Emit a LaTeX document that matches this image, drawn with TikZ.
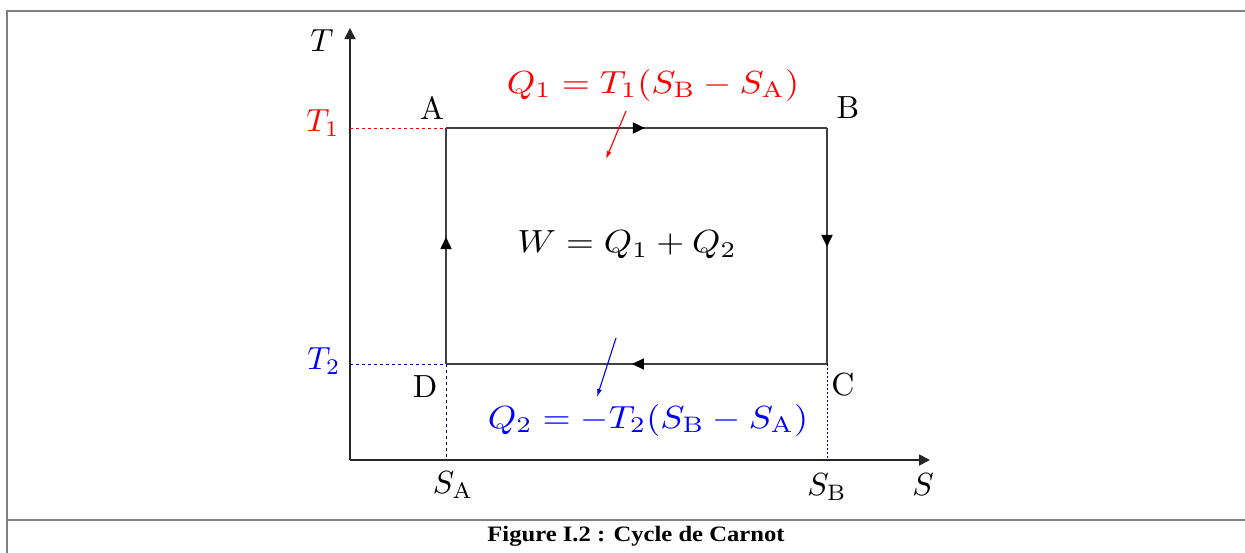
\documentclass[tikz,border=0pt]{standalone}
\usepackage{fontspec}
\newfontfamily\capfont{Liberation Serif}
\usetikzlibrary{arrows.meta,decorations.markings}
\tikzset{
  lbl/.style={font=\fontsize{10}{12}\selectfont, inner sep=0pt, scale=3.2},
  frameline/.style={draw=black!50, line width=2.2pt},
  cycleline/.style={draw=black!75, line width=1.8pt},
  axisline/.style={draw=black!85, line width=1.8pt, -{Triangle[length=11pt,width=11pt]}},
  midarrow/.style={postaction={decorate},decoration={markings,mark=at position #1 with {\arrow[black]{Triangle[length=12pt,width=11pt]}}}},
  guide/.style={line width=1pt, dash pattern=on 3pt off 3pt},
  heat/.style={line width=1.1pt, -{Latex[length=8pt,width=5pt]}},
}
\begin{document}
\begin{tikzpicture}[x=1pt,y=-1pt]
\useasboundingbox (0,0) rectangle (1245,552);
% frame
\draw[frameline] (7,560) -- (7,11) -- (1250,11);
\draw[frameline] (7,520) -- (1250,520);
\node[inner sep=0pt, xscale=1.12, font=\capfont\bfseries\fontsize{22}{26}\selectfont] (cap) at (636,536) {Figure I.2 : Cycle de Carnot};
% axes
\coordinate (O) at (350,460);
\coordinate (Ttip) at (350,28);
\coordinate (Stip) at (930,460);
\draw[axisline] (O) -- (Ttip);
\draw[axisline] (O) -- (Stip);
% cycle corners
\coordinate (A) at (446,128);
\coordinate (B) at (827,128);
\coordinate (C) at (827,364);
\coordinate (D) at (446,364);
\coordinate (T1ax) at (350,128);
\coordinate (T2ax) at (350,364);
\coordinate (SAax) at (446,460);
\coordinate (SBax) at (827,460);
% guide lines
\draw[guide, red] (T1ax) -- (A);
\draw[guide, blue!70!black] (T2ax) -- (D);
\draw[guide, black!70!blue] (D) -- (SAax);
\draw[line width=1pt, dash pattern=on 2pt off 2pt, black!70!blue] (C) -- (SBax);
% cycle
\draw[cycleline, midarrow=0.522] (A) -- (B);
\draw[cycleline, midarrow=0.504] (B) -- (C);
\draw[cycleline, midarrow=0.512] (C) -- (D);
\draw[cycleline, midarrow=0.538] (D) -- (A);
% labels
\node[lbl] (Tl) at (322,41) {$T$};
\node[lbl, red] (T1l) at (323,123) {$T_1$};
\node[lbl, blue] (T2l) at (324,361) {$T_2$};
\node[lbl] (Al) at (432,108) {A};
\node[lbl] (Bl) at (848,108) {B};
\node[lbl] (Cl) at (843,385) {C};
\node[lbl] (Dl) at (425,387) {D};
\node[lbl] (SAl) at (453,485) {$S_{\mathrm{A}}$};
\node[lbl] (SBl) at (827,487) {$S_{\mathrm{B}}$};
\node[lbl] (Sl) at (923,485) {$S$};
\node[lbl, red, xscale=1.13] (Q1) at (653,85) {$Q_1=T_1(S_{\mathrm{B}}-S_{\mathrm{A}})$};
\node[lbl, blue, xscale=1.13] (Q2) at (648,420) {$Q_2=-T_2(S_{\mathrm{B}}-S_{\mathrm{A}})$};
\node[lbl, xscale=1.12] (Wl) at (627,245) {$W=Q_1+Q_2$};
% heat arrows
\coordinate (q1s) at (626,111);
\coordinate (q1e) at (606,159);
\coordinate (q2s) at (616,338);
\coordinate (q2e) at (597,397);
\draw[heat, red] (q1s) -- (q1e);
\draw[heat, blue] (q2s) -- (q2e);
\end{tikzpicture}
\end{document}
